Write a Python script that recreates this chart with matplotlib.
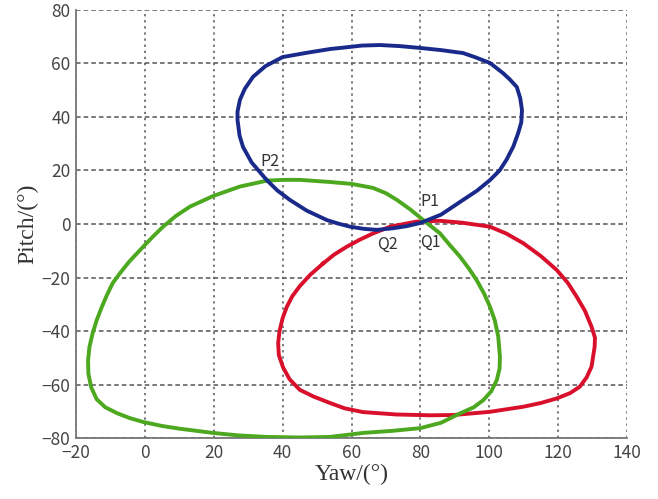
import matplotlib
matplotlib.use("Agg")
import matplotlib.pyplot as plt

# trajectory points (yaw, pitch) in degrees
blue_yaw = [67.3, 72, 76, 80, 86, 92.4, 96.5, 100.2, 103, 105, 107, 108.4, 109.3, 109.5, 109,
            108, 106, 104, 100.2, 96, 92.4, 86, 80, 74, 68.3, 63, 59.6, 53.75, 47, 40, 35,
            31.4, 29, 27.6, 26.9, 26.9, 27.5, 28.5, 31, 35.4, 38.5, 42.1, 47, 52.8, 56, 59.6, 63.5, 67.3]
blue_pitch = [-2.2, -1.6, -0.8, 0.4, 3.5, 9, 12.5, 16.4, 20, 24, 29, 34, 38, 42.6, 47,
              51.2, 54, 56.4, 60.2, 62.3, 63.9, 65, 65.8, 66.5, 66.9, 66.7, 66.2, 65.4, 64, 62.4, 59,
              55, 50.5, 46.4, 42, 38.9, 33, 28.8, 23, 16.4, 12.5, 9, 5, 1.5, 0.2, -1, -1.8, -2.2]

green_yaw = [35.4, 27.6, 19.9, 13.1, 9, 5.3, 2.5, -0.5, -4.5, -7, -9.3, -11, -12.5, -14, -15.2,
             -16.1, -16.5, -16.4, -15.6, -14, -11.5, -8.1, -4.5, -0.5, 5, 10, 19.8, 27, 35.4, 45,
             53.75, 63.3, 72, 80, 86, 91.5, 95.5, 98.3, 100.6, 102.2, 103, 103.1, 102.6, 101.6,
             100.2, 98.5, 96.3, 94, 91.5, 88.5, 85.7, 80.8, 77, 73.2, 70, 66.2, 60, 53.75, 45, 40, 35.4]
green_pitch = [16.2, 14, 10.5, 6.5, 3, -1, -4.5, -8.5, -14, -18, -22, -26.5, -31, -36, -41,
               -46, -51, -56, -61, -65.5, -68.5, -70.7, -72.5, -74, -75.5, -76.5, -78.1, -79,
               -79.6, -79.8, -79.6, -78.1, -77.3, -76.3, -74.3, -70.8, -68.5, -65.8, -62.5, -58.3,
               -54, -49.6, -42, -36, -30.9, -26, -20.9, -16.5, -12.2, -7.8, -3.5, 1.5, 5.5, 9,
               11.5, 13.5, 15, 15.7, 16.5, 16.5, 16.2]

red_yaw = [51.8, 55, 58.6, 62.5, 66.3, 71.2, 78.9, 85.7, 92, 100.2, 105, 109.9, 115, 119.6,
           122.8, 125.4, 127.8, 129.7, 130.7, 130.6, 129.7, 128.3, 126.3, 123.5, 119.6, 115,
           109.9, 100.2, 89.6, 82.8, 73, 63.3, 58, 53.75, 49, 45, 42, 40.1, 38.9, 38.7, 39.1,
           40, 41.2, 42.8, 45, 48, 51.8]
red_pitch = [-14.7, -11.4, -8.5, -5.8, -3.5, -1, 0.9, 1.2, 0.5, -1, -3.6, -7.2, -12, -17.2,
             -22, -27.2, -32.5, -38.4, -42.5, -45.9, -53.3, -57.3, -60.8, -63.2, -65.2, -66.9,
             -68.3, -70.2, -71.4, -71.5, -71.2, -70.3, -68.9, -66.9, -64.5, -62, -58, -53.5, -49,
             -44.5, -40, -35.2, -31, -27, -23.2, -19, -14.7]

point_names = ["P1", "P2", "Q1", "Q2"]
point_x = [80, 33.5, 80, 67.5]
point_y = [8.5, 23.5, -7, -7.5]

fig = plt.figure(figsize=(6.58, 4.99), dpi=100)
ax = fig.add_axes([0.1155, 0.1222, 0.8374, 0.8578])

ax.plot(red_yaw, red_pitch, color="#d8102c", lw=2.8, solid_joinstyle="round", zorder=3)
ax.plot(green_yaw, green_pitch, color="#4ca81e", lw=2.8, solid_joinstyle="round", zorder=4)
ax.plot(blue_yaw, blue_pitch, color="#1a2a8a", lw=2.8, solid_joinstyle="round", zorder=5)

for name, x, y in zip(point_names, point_x, point_y):
    ax.text(x, y, name, fontsize=11.5, color="#333333", family="Noto Sans CJK JP",
            va="center", ha="left", zorder=6)

ax.set_xlim(-20, 140)
ax.set_ylim(-80, 80)
ax.set_xticks(range(-20, 141, 20))
ax.set_yticks(range(-80, 81, 20))

ax.xaxis.grid(True, color="#555555", linestyle=(0, (1.5, 2.5)), lw=1.1)
ax.yaxis.grid(True, color="#555555", linestyle=(0, (3, 2)), lw=1.1)
ax.set_axisbelow(True)

for side in ["top", "right"]:
    ax.spines[side].set_visible(False)
for side in ["left", "bottom"]:
    ax.spines[side].set_color("#777777")
    ax.spines[side].set_linewidth(1.3)

ax.tick_params(length=0, pad=4, labelsize=12.5, labelcolor="#444444")
for lab in ax.get_xticklabels() + ax.get_yticklabels():
    lab.set_family("Noto Sans CJK JP")

ax.set_xlabel("Yaw/(°)", fontsize=17, family="Liberation Serif", color="#333333", labelpad=2)
ax.set_ylabel("Pitch/(°)", fontsize=17, family="Liberation Serif", color="#333333", labelpad=2)

fig.savefig("out.png", dpi=100)
